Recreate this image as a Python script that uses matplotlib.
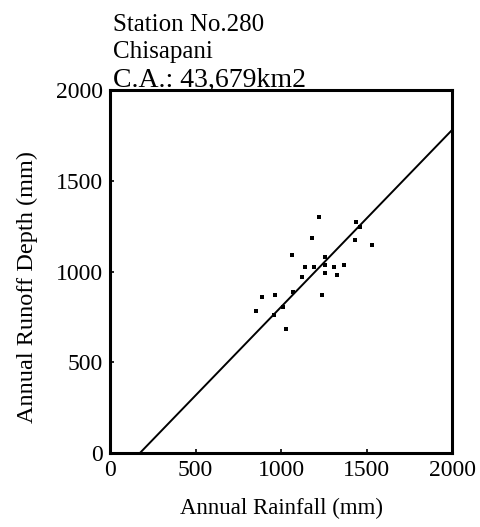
import numpy as np
import matplotlib
matplotlib.use("Agg")
from matplotlib import pyplot as plt

plt.rcParams['font.family'] = ['Liberation Serif', 'DejaVu Serif']

# annual rainfall (mm) vs annual runoff depth (mm)
rainfall = [1224, 1439, 1462, 1180, 1434, 1532, 1064, 1259, 1142, 1193, 1259, 1310,
            1367, 1259, 1327, 1125, 1072, 963, 891, 1240, 1013, 852, 961, 1029]
runoff = [1302, 1274, 1243, 1187, 1176, 1148, 1093, 1080, 1025, 1025, 1034, 1023,
          1036, 992, 979, 970, 886, 871, 859, 871, 803, 785, 761, 681]

# fitted line  runoff = slope * (rainfall - x0)
slope = 0.975
x0 = 175

title_lines = ["Station No.280", "Chisapani", "C.A.: 43,679km2"]
ticks = [0, 500, 1000, 1500, 2000]

fig = plt.figure(figsize=(4.81, 5.27), dpi=100)
ax = fig.add_axes([110/481, 1-453/527, 342/481, 363/527])

ax.scatter(rainfall, runoff, s=11, marker='s', color='black', linewidths=0, zorder=3)
xl = np.array([x0, 2000])
ax.plot(xl, slope*(xl - x0), color='black', lw=1.4)

ax.set_xlim(0, 2000)
ax.set_ylim(0, 2000)
ax.set_xticks(ticks)
ax.set_yticks(ticks)
ax.tick_params(direction='in', length=3, width=1.2, labelsize=17, pad=5,
               top=False, right=False)
for s in ax.spines.values():
    s.set_linewidth(2.2)

ax.set_xlabel("Annual Rainfall (mm)", fontsize=16.5, labelpad=12)
ax.set_ylabel("Annual Runoff Depth (mm)", fontsize=17.5)
ax.yaxis.set_label_coords(-0.21, 0.457)

fig.text(113/481, 1-31/527, title_lines[0], fontsize=18, va='baseline')
fig.text(113/481, 1-58/527, title_lines[1], fontsize=18, va='baseline')
fig.text(113/481, 1-87/527, title_lines[2], fontsize=20, va='baseline')

plt.savefig("out.png", dpi=100)
plt.close()
